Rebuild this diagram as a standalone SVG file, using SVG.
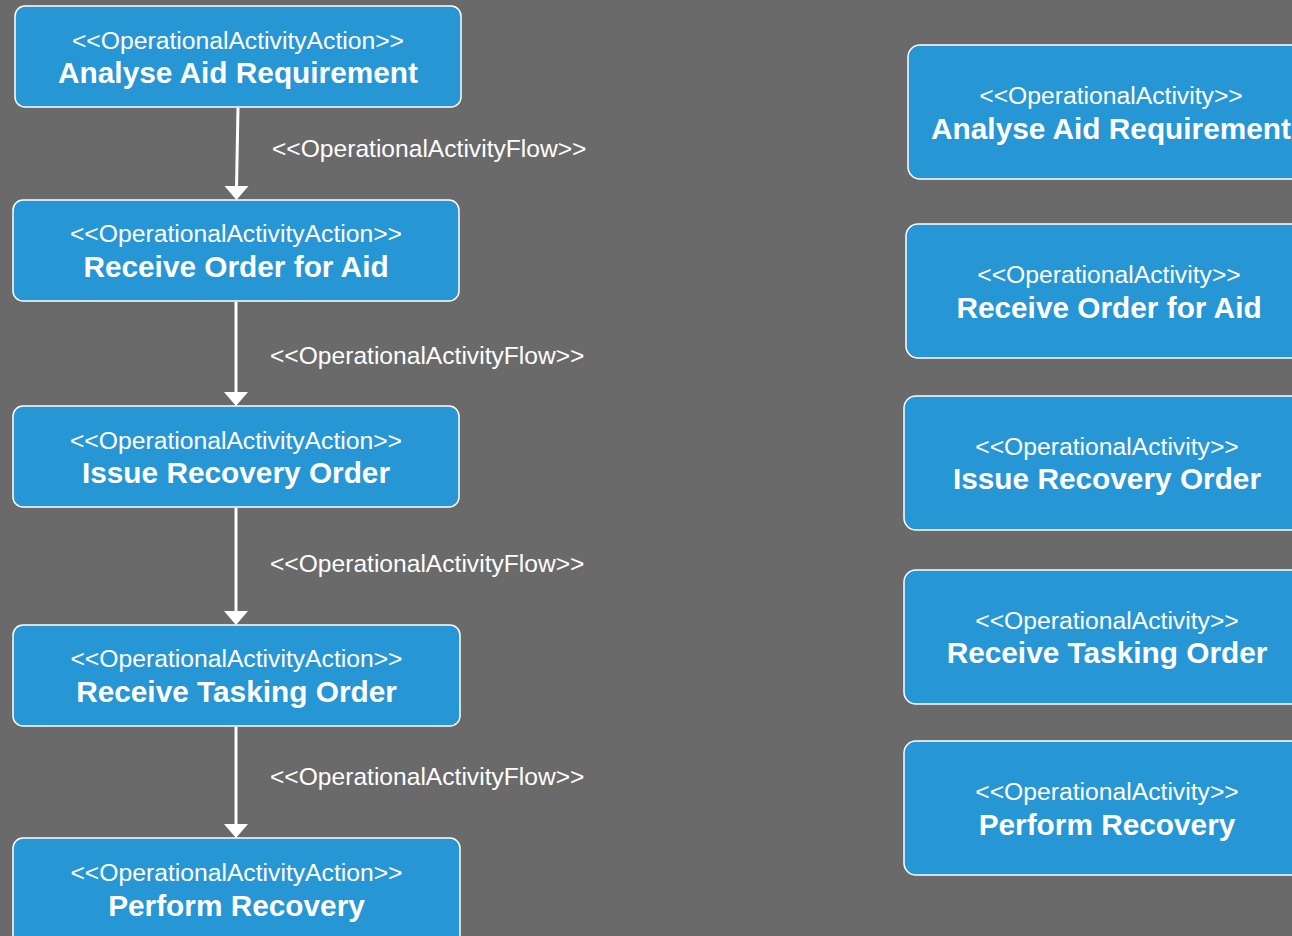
<svg xmlns="http://www.w3.org/2000/svg" width="1292" height="936" viewBox="0 0 1292 936">
<defs>
<style>
.box{fill:#2796d5;stroke:#ffffff;stroke-width:1.5}
.st{font-family:"Liberation Sans",Arial,sans-serif;font-size:24.7px;fill:#ffffff;text-anchor:middle}
.tt{font-family:"Liberation Sans",Arial,sans-serif;font-size:29.8px;font-weight:bold;fill:#ffffff;text-anchor:middle}
.el{font-family:"Liberation Sans",Arial,sans-serif;font-size:24.6px;fill:#ffffff}
.edge{stroke:#ffffff;stroke-width:3;fill:none}
.ah{fill:#ffffff}
</style>
</defs>
<rect x="0" y="0" width="1292" height="936" fill="#6a6a6a"/>

<g id="connectors">
<line class="edge" x1="238" y1="108" x2="236.5" y2="188"/>
<path class="ah" d="M224.5,186 L248.5,186 L236.5,200 Z"/>
<line class="edge" x1="236" y1="302" x2="236" y2="394"/>
<path class="ah" d="M224,392 L248,392 L236,406 Z"/>
<line class="edge" x1="236" y1="508" x2="236" y2="613"/>
<path class="ah" d="M224,611 L248,611 L236,625 Z"/>
<line class="edge" x1="236" y1="727" x2="236" y2="826"/>
<path class="ah" d="M224,824 L248,824 L236,838 Z"/>
<text class="el" x="272" y="157">&lt;&lt;OperationalActivityFlow&gt;&gt;</text>
<text class="el" x="270" y="364">&lt;&lt;OperationalActivityFlow&gt;&gt;</text>
<text class="el" x="270" y="572">&lt;&lt;OperationalActivityFlow&gt;&gt;</text>
<text class="el" x="270" y="785">&lt;&lt;OperationalActivityFlow&gt;&gt;</text>
</g>

<g id="a1">
<rect class="box" x="15" y="6" width="446" height="101" rx="10"/>
<text class="st" x="238" y="49">&lt;&lt;OperationalActivityAction&gt;&gt;</text>
<text class="tt" x="238" y="83">Analyse Aid Requirement</text>
</g>
<g id="a2">
<rect class="box" x="13" y="200" width="446" height="101" rx="10"/>
<text class="st" x="236" y="242">&lt;&lt;OperationalActivityAction&gt;&gt;</text>
<text class="tt" x="236" y="277">Receive Order for Aid</text>
</g>
<g id="a3">
<rect class="box" x="13" y="406" width="446" height="101" rx="10"/>
<text class="st" x="236" y="449">&lt;&lt;OperationalActivityAction&gt;&gt;</text>
<text class="tt" x="236" y="483">Issue Recovery Order</text>
</g>
<g id="a4">
<rect class="box" x="13" y="625" width="447" height="101" rx="10"/>
<text class="st" x="236.5" y="667">&lt;&lt;OperationalActivityAction&gt;&gt;</text>
<text class="tt" x="236.5" y="702">Receive Tasking Order</text>
</g>
<g id="a5">
<rect class="box" x="13" y="838" width="447" height="120" rx="10"/>
<text class="st" x="236.5" y="881">&lt;&lt;OperationalActivityAction&gt;&gt;</text>
<text class="tt" x="236.5" y="916">Perform Recovery</text>
</g>

<g id="b1">
<rect class="box" x="908" y="45" width="406" height="134" rx="12"/>
<text class="st" x="1111" y="104">&lt;&lt;OperationalActivity&gt;&gt;</text>
<text class="tt" x="1111" y="139">Analyse Aid Requirement</text>
</g>
<g id="b2">
<rect class="box" x="906" y="224" width="406" height="134" rx="12"/>
<text class="st" x="1109" y="283">&lt;&lt;OperationalActivity&gt;&gt;</text>
<text class="tt" x="1109" y="318">Receive Order for Aid</text>
</g>
<g id="b3">
<rect class="box" x="904" y="396" width="406" height="134" rx="12"/>
<text class="st" x="1107" y="455">&lt;&lt;OperationalActivity&gt;&gt;</text>
<text class="tt" x="1107" y="489">Issue Recovery Order</text>
</g>
<g id="b4">
<rect class="box" x="904" y="570" width="406" height="134" rx="12"/>
<text class="st" x="1107" y="629">&lt;&lt;OperationalActivity&gt;&gt;</text>
<text class="tt" x="1107" y="663">Receive Tasking Order</text>
</g>
<g id="b5">
<rect class="box" x="904" y="741" width="406" height="134" rx="12"/>
<text class="st" x="1107" y="800">&lt;&lt;OperationalActivity&gt;&gt;</text>
<text class="tt" x="1107" y="835">Perform Recovery</text>
</g>
</svg>
